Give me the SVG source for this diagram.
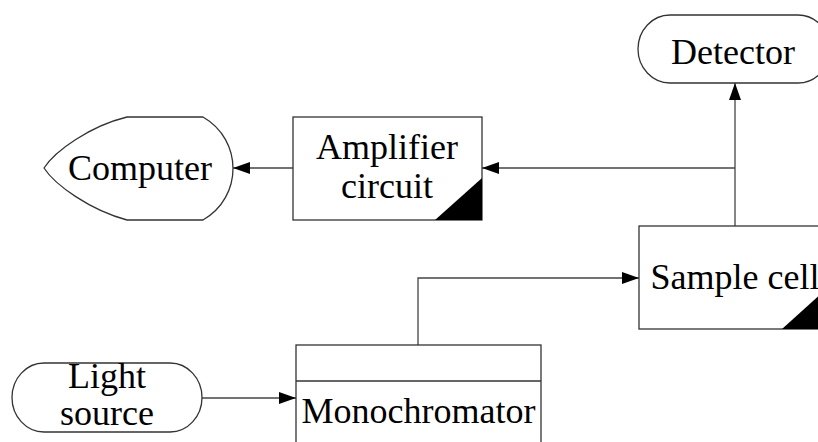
<svg xmlns="http://www.w3.org/2000/svg" width="818" height="442" viewBox="0 0 818 442">
<defs>
<style>
.s{fill:#fff;stroke:#333;stroke-width:1.3}
.t{font-family:"Liberation Serif","Times New Roman",serif;font-size:36px;fill:#000;text-anchor:middle}
.c{fill:none;stroke:#444;stroke-width:1.3}
.k{fill:#000}
</style>
<marker id="ah" markerWidth="18" markerHeight="12" refX="17" refY="6" orient="auto" markerUnits="userSpaceOnUse">
<path d="M0,0 L17,6 L0,12 Z" fill="#000"/>
</marker>
</defs>
<rect width="818" height="442" fill="#fff"/>
<g id="connectors">
<path class="c" d="M735,226 V83" marker-end="url(#ah)"/>
<path class="c" d="M735,168 H482" marker-end="url(#ah)"/>
<path class="c" d="M293,168 H233" marker-end="url(#ah)"/>
<path class="c" d="M418,345 V278 H639" marker-end="url(#ah)"/>
<path class="c" d="M202,398 H296" marker-end="url(#ah)"/>
</g>
<g id="detector">
<rect class="s" x="638" y="15" width="192" height="68" rx="32" ry="34"/>
<text class="t" x="733" y="64">Detector</text>
</g>
<g id="computer">
<path class="s" d="M127,117 L203,117 C243,140 243,197 203,220 L127,220 C90,210 55,185 44,168 C55,151 90,126 127,117 Z"/>
<text class="t" x="140" y="180">Computer</text>
</g>
<g id="amplifier">
<rect class="s" x="293" y="117" width="189" height="103"/>
<path class="k" d="M435,220 L482,178 L482,220 Z"/>
<text class="t" x="387" y="159">Amplifier</text>
<text class="t" x="387" y="198">circuit</text>
</g>
<g id="sample-cell">
<rect class="s" x="639" y="226" width="193" height="103"/>
<path class="k" d="M782,329 L832,284 L832,329 Z"/>
<text class="t" x="735" y="289">Sample cell</text>
</g>
<g id="monochromator">
<rect class="s" x="296" y="345" width="245" height="110"/>
<line class="s" x1="296" y1="381" x2="541" y2="381"/>
<text class="t" x="418.5" y="423">Monochromator</text>
</g>
<g id="light-source">
<rect class="s" x="12" y="363" width="190" height="69" rx="32" ry="34.5"/>
<text class="t" x="107" y="388">Light</text>
<text class="t" x="107" y="425">source</text>
</g>
</svg>
